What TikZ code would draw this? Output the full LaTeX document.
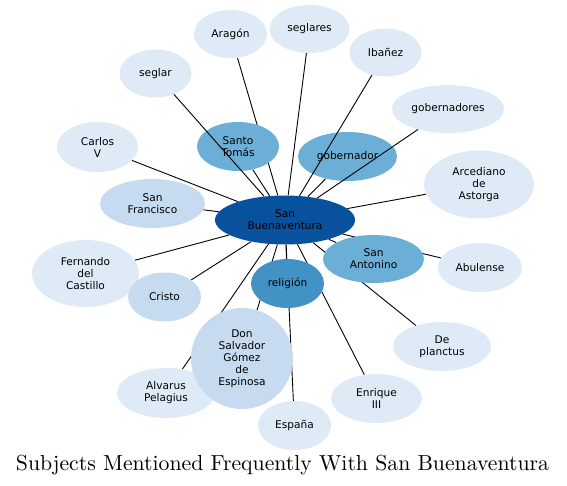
\documentclass[tikz,border=0pt]{standalone}
\usepackage{fontspec}
\setmainfont{DejaVu Sans}
\newfontfamily\titlefont{Latin Modern Roman}
\usetikzlibrary{shapes.geometric}
\definecolor{cA}{HTML}{08519C}
\definecolor{cB}{HTML}{4292C6}
\definecolor{cC}{HTML}{6BAED6}
\definecolor{cD}{HTML}{C6DBEF}
\definecolor{cE}{HTML}{DEEBF7}
\begin{document}
\begin{tikzpicture}[x=1pt,y=-1pt,
  bub/.style={ellipse, inner sep=0pt, align=center, font=\fontsize{10.6}{12}\selectfont, text=black, draw=none},
  lnk/.style={draw=black, line width=0.9pt}]
\useasboundingbox (0,0) rectangle (567,486);
\path
 node[bub, minimum width=140pt, minimum height=49pt] (c) at (285,220) {}
 node[bub, minimum width=73pt, minimum height=48pt] (aragon) at (230.5,34) {}
 node[bub, minimum width=80pt, minimum height=48pt] (seglares) at (309.5,29) {}
 node[bub, minimum width=72pt, minimum height=48pt] (ibanez) at (385.5,52.5) {}
 node[bub, minimum width=72pt, minimum height=48pt] (seglar) at (155.5,73.5) {}
 node[bub, minimum width=112pt, minimum height=48pt] (gobs) at (448,109) {}
 node[bub, minimum width=110pt, minimum height=68pt] (arce) at (479,184.5) {}
 node[bub, minimum width=84pt, minimum height=49pt] (abul) at (480,267.5) {}
 node[bub, minimum width=98pt, minimum height=49pt] (depl) at (442,346.5) {}
 node[bub, minimum width=81pt, minimum height=50pt] (carlos) at (97.5,147) {}
 node[bub, minimum width=105pt, minimum height=49pt] (sfran) at (152.5,203.5) {}
 node[bub, minimum width=107pt, minimum height=67pt] (fern) at (85.5,273.5) {}
 node[bub, minimum width=73pt, minimum height=49pt] (cristo) at (164.5,297) {}
 node[bub, minimum width=82pt, minimum height=49pt] (stomas) at (238,146.5) {}
 node[bub, minimum width=99pt, minimum height=49pt] (gob) at (347.5,156.5) {}
 node[bub, minimum width=73pt, minimum height=49pt] (relig) at (287.5,283.5) {}
 node[bub, minimum width=101pt, minimum height=48pt] (santon) at (373.5,259) {}
 node[bub, minimum width=102pt, minimum height=101pt] (don) at (242,358.5) {}
 node[bub, minimum width=91pt, minimum height=49pt] (enrique) at (376.5,398.5) {}
 node[bub, minimum width=73pt, minimum height=49pt] (espana) at (294.5,425.5) {}
 node[bub, minimum width=98pt, minimum height=50pt] (alvar) at (166,393) {};
% edges under the nodes
\foreach \n in {aragon,seglares,carlos,sfran,fern,cristo,stomas,gob,relig,santon,don,enrique,espana,alvar,arce,abul,depl}
  \draw[lnk] (c) -- (\n);
% nodes
\node[bub, fill=cE, minimum width=73pt, minimum height=48pt] at (aragon) {Aragón};
\node[bub, fill=cE, minimum width=80pt, minimum height=48pt] at (seglares) {seglares};
\node[bub, fill=cE, minimum width=72pt, minimum height=48pt] at (ibanez) {Ibañez};
\node[bub, fill=cE, minimum width=72pt, minimum height=48pt] at (seglar) {seglar};
\node[bub, fill=cE, minimum width=112pt, minimum height=48pt] at (gobs) {gobernadores};
\node[bub, fill=cE, minimum width=110pt, minimum height=68pt] at (arce) {Arcediano\\de\\Astorga};
\node[bub, fill=cE, minimum width=84pt, minimum height=49pt] at (abul) {Abulense};
\node[bub, fill=cE, minimum width=98pt, minimum height=49pt] at (depl) {De\\planctus};
\node[bub, fill=cE, minimum width=81pt, minimum height=50pt] at (carlos) {Carlos\\V};
\node[bub, fill=cD, minimum width=105pt, minimum height=49pt] at (sfran) {San\\Francisco};
\node[bub, fill=cE, minimum width=107pt, minimum height=67pt] at (fern) {Fernando\\del\\Castillo};
\node[bub, fill=cD, minimum width=73pt, minimum height=49pt] at (cristo) {Cristo};
\node[bub, fill=cC, minimum width=82pt, minimum height=49pt] at (stomas) {Santo\\Tomás};
\node[bub, fill=cC, minimum width=99pt, minimum height=49pt] at (gob) {gobernador};
\node[bub, fill=cB, minimum width=73pt, minimum height=49pt] at (relig) {religión};
\node[bub, fill=cC, minimum width=101pt, minimum height=48pt] at (santon) {San\\Antonino};
\node[bub, fill=cE, minimum width=98pt, minimum height=50pt] at (alvar) {Alvarus\\Pelagius};
\node[bub, fill=cD, minimum width=102pt, minimum height=101pt] at (don) {Don\\Salvador\\Gómez\\de\\Espinosa};
\node[bub, fill=cE, minimum width=91pt, minimum height=49pt] at (enrique) {Enrique\\III};
\node[bub, fill=cE, minimum width=73pt, minimum height=49pt] at (espana) {España};
% edges drawn over nodes
\draw[lnk] (c) -- (seglar);
\draw[lnk] (c) -- (ibanez);
\draw[lnk] (c) -- (gobs);
\node[bub, fill=cA, minimum width=140pt, minimum height=49pt] at (c) {San\\Buenaventura};
\node[inner sep=0pt] (title) at (282.5,465) {\resizebox{533pt}{!}{\titlefont Subjects Mentioned Frequently With San Buenaventura}};
\end{tikzpicture}
\end{document}
